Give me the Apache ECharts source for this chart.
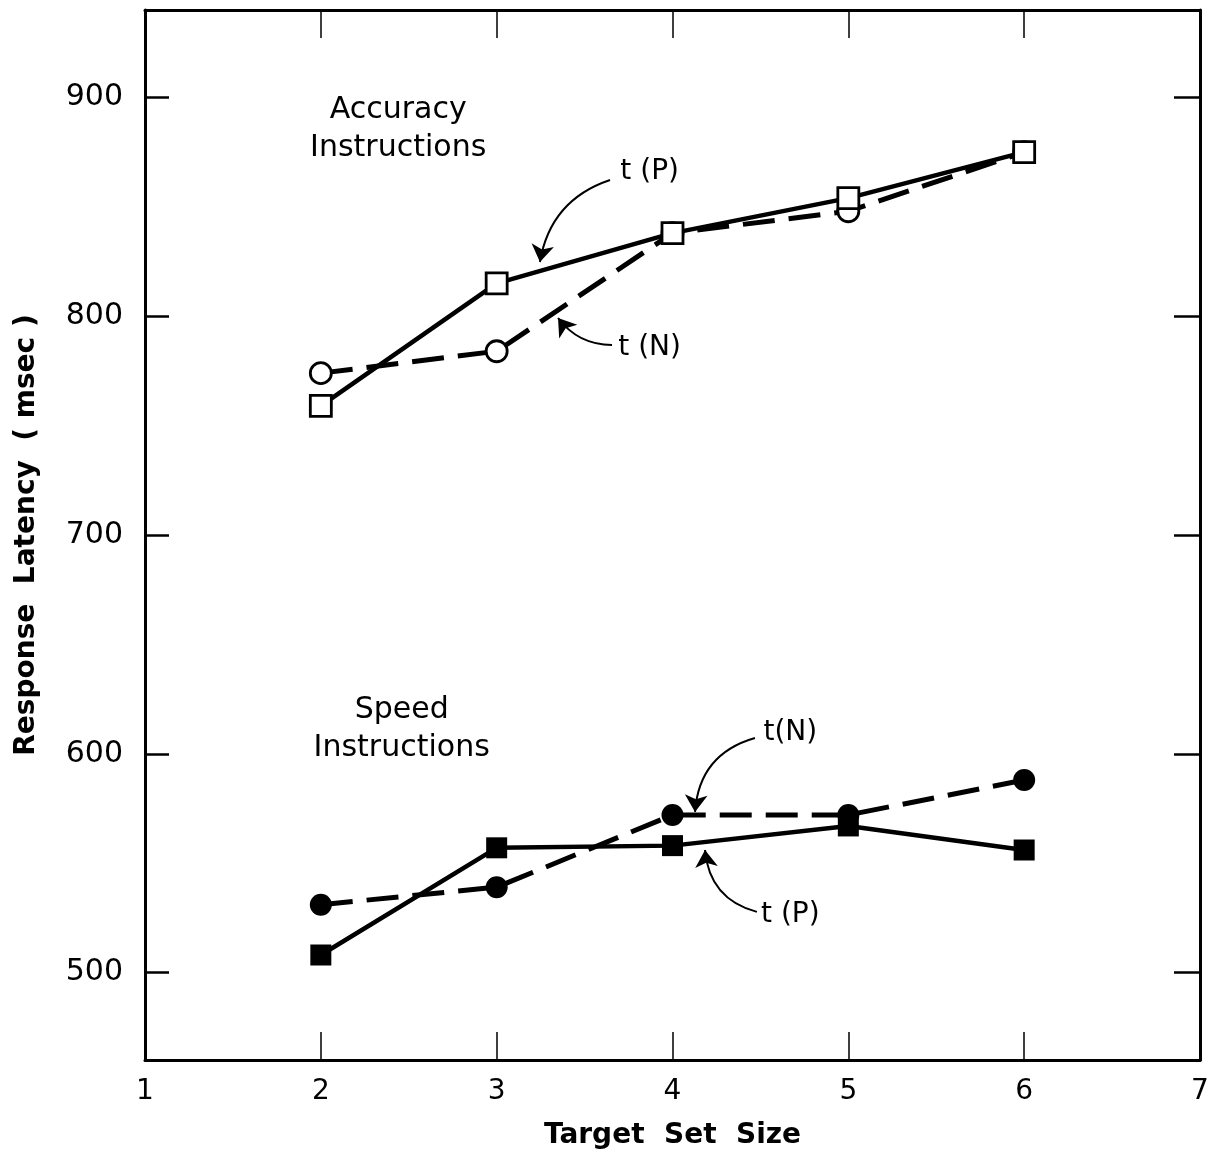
<!DOCTYPE html>
<html>
<head>
<meta charset="utf-8">
<script src="https://cdn.jsdelivr.net/npm/echarts@6/dist/echarts.min.js"></script>
<style>
html,body{margin:0;padding:0;background:#fff;}
#chart{width:1211px;height:1152px;}
</style>
</head>
<body>
<div id="chart"></div>
<script>
// ---- data ----
const setSizes = [2, 3, 4, 5, 6];
const accuracyTP = [759, 815, 838, 854, 875];
const accuracyTN = [774, 784, 838, 848, 875];
const speedTP = [508, 557, 558, 567, 556];
const speedTN = [531, 539, 572, 572, 588];
const yTickValues = [500, 600, 700, 800, 900];
const xTickValues = [1, 2, 3, 4, 5, 6, 7];

// annotation texts (data coordinates)
const groupLabels = [
  { text: 'Accuracy\nInstructions', at: [2.44, 885.5] },
  { text: 'Speed\nInstructions', at: [2.46, 611.0] }
];
const curveLabels = [
  { text: 't (P)', at: [3.87, 866] },
  { text: 't (N)', at: [3.87, 785.5] },
  { text: 't(N)', at: [4.67, 609.5] },
  { text: 't (P)', at: [4.67, 526.3] }
];
// arrows: from [x,y] to [x,y] with curveness
const arrows = [
  { from: [3.645, 862.3], to: [3.246, 824.8], curve: -0.3 },
  { from: [3.656, 786.9], to: [3.349, 799.2], curve: 0.25 },
  { from: [4.469, 607.2], to: [4.128, 573.4], curve: -0.35 },
  { from: [4.48, 527.7], to: [4.185, 556.0], curve: 0.35 }
];

const FONT = 'DejaVu Sans';
const zip = (xs, ys) => xs.map((x, i) => [x, ys[i]]);

const chart = echarts.init(document.getElementById('chart'), null, { renderer: 'canvas' });

const axisLine = { show: true, lineStyle: { color: '#000', width: 3 } };

const option = {
  backgroundColor: '#fff',
  animation: false,
  grid: { left: 145, right: 11, top: 10, bottom: 92, containLabel: false, outerBoundsMode: 'none' },
  xAxis: [
    {
      type: 'value', min: 1, max: 7, interval: 1, position: 'bottom',
      axisLine: axisLine,
      axisTick: { show: true, inside: true, length: 28, lineStyle: { color: '#000', width: 1.5 } },
      axisLabel: { show: true, margin: 18, color: '#000', fontFamily: FONT, fontSize: 28,
        customValues: xTickValues },
      splitLine: { show: false },
      name: 'Target  Set  Size', nameLocation: 'middle', nameGap: 62,
      nameTextStyle: { color: '#000', fontFamily: FONT, fontSize: 28, fontWeight: 'bold' }
    },
    {
      type: 'value', min: 1, max: 7, interval: 1, position: 'top',
      axisLine: axisLine,
      axisTick: { show: true, inside: true, length: 28, lineStyle: { color: '#000', width: 1.5 } },
      axisLabel: { show: false },
      splitLine: { show: false }
    }
  ],
  yAxis: [
    {
      type: 'value', min: 460, max: 940, position: 'left',
      axisLine: axisLine,
      axisTick: { show: true, inside: true, length: 24, customValues: yTickValues,
        lineStyle: { color: '#000', width: 2.5 } },
      axisLabel: { show: true, margin: 22, color: '#000', fontFamily: FONT, fontSize: 30,
        customValues: yTickValues },
      splitLine: { show: false },
      name: 'Response  Latency  ( msec )', nameLocation: 'middle', nameGap: 104, nameRotate: 90,
      nameTextStyle: { color: '#000', fontFamily: FONT, fontSize: 28, fontWeight: 'bold' }
    },
    {
      type: 'value', min: 460, max: 940, position: 'right',
      axisLine: axisLine,
      axisTick: { show: true, inside: true, length: 26, customValues: yTickValues,
        lineStyle: { color: '#000', width: 2.5 } },
      axisLabel: { show: false },
      splitLine: { show: false }
    }
  ],
  series: [
    {
      name: 'Accuracy t(N)', type: 'line', data: zip(setSizes, accuracyTN),
      symbol: 'circle', symbolSize: 21, z: 3,
      lineStyle: { color: '#000', width: 5, type: [32, 14] },
      itemStyle: { color: '#fff', borderColor: '#000', borderWidth: 2.8 }
    },
    {
      name: 'Accuracy t(P)', type: 'line', data: zip(setSizes, accuracyTP),
      symbol: 'rect', symbolSize: 21, z: 4,
      lineStyle: { color: '#000', width: 4.5 },
      itemStyle: { color: '#fff', borderColor: '#000', borderWidth: 2.8 }
    },
    {
      name: 'Speed t(N)', type: 'line', data: zip(setSizes, speedTN),
      symbol: 'circle', symbolSize: 22, z: 3,
      lineStyle: { color: '#000', width: 5, type: [32, 14] },
      itemStyle: { color: '#000', borderColor: '#000', borderWidth: 0 }
    },
    {
      name: 'Speed t(P)', type: 'line', data: zip(setSizes, speedTP),
      symbol: 'rect', symbolSize: 21, z: 4,
      lineStyle: { color: '#000', width: 4.5 },
      itemStyle: { color: '#000', borderColor: '#000', borderWidth: 0 }
    },
    {
      name: 'arrows', type: 'lines', coordinateSystem: 'cartesian2d', z: 5,
      symbol: ['none', 'arrow'], symbolSize: [9, 17],
      lineStyle: { color: '#000', width: 2, opacity: 1 },
      data: arrows.map(a => ({ coords: [a.from, a.to], lineStyle: { curveness: a.curve } }))
    },
    {
      name: 'groupLabels', type: 'scatter', symbolSize: 0, z: 6, silent: true,
      itemStyle: { opacity: 1, color: 'transparent' },
      data: groupLabels.map(g => ({ value: g.at, name: g.text })),
      label: { show: true, position: 'inside', formatter: p => p.name, color: '#000',
        fontFamily: FONT, fontSize: 30, lineHeight: 38, align: 'center', verticalAlign: 'middle' }
    },
    {
      name: 'curveLabels', type: 'scatter', symbolSize: 0, z: 6, silent: true,
      itemStyle: { opacity: 1, color: 'transparent' },
      data: curveLabels.map(g => ({ value: g.at, name: g.text })),
      label: { show: true, position: 'inside', formatter: p => p.name, color: '#000',
        fontFamily: FONT, fontSize: 28, align: 'center', verticalAlign: 'middle' }
    }
  ]
};
chart.setOption(option);
</script>
</body>
</html>
